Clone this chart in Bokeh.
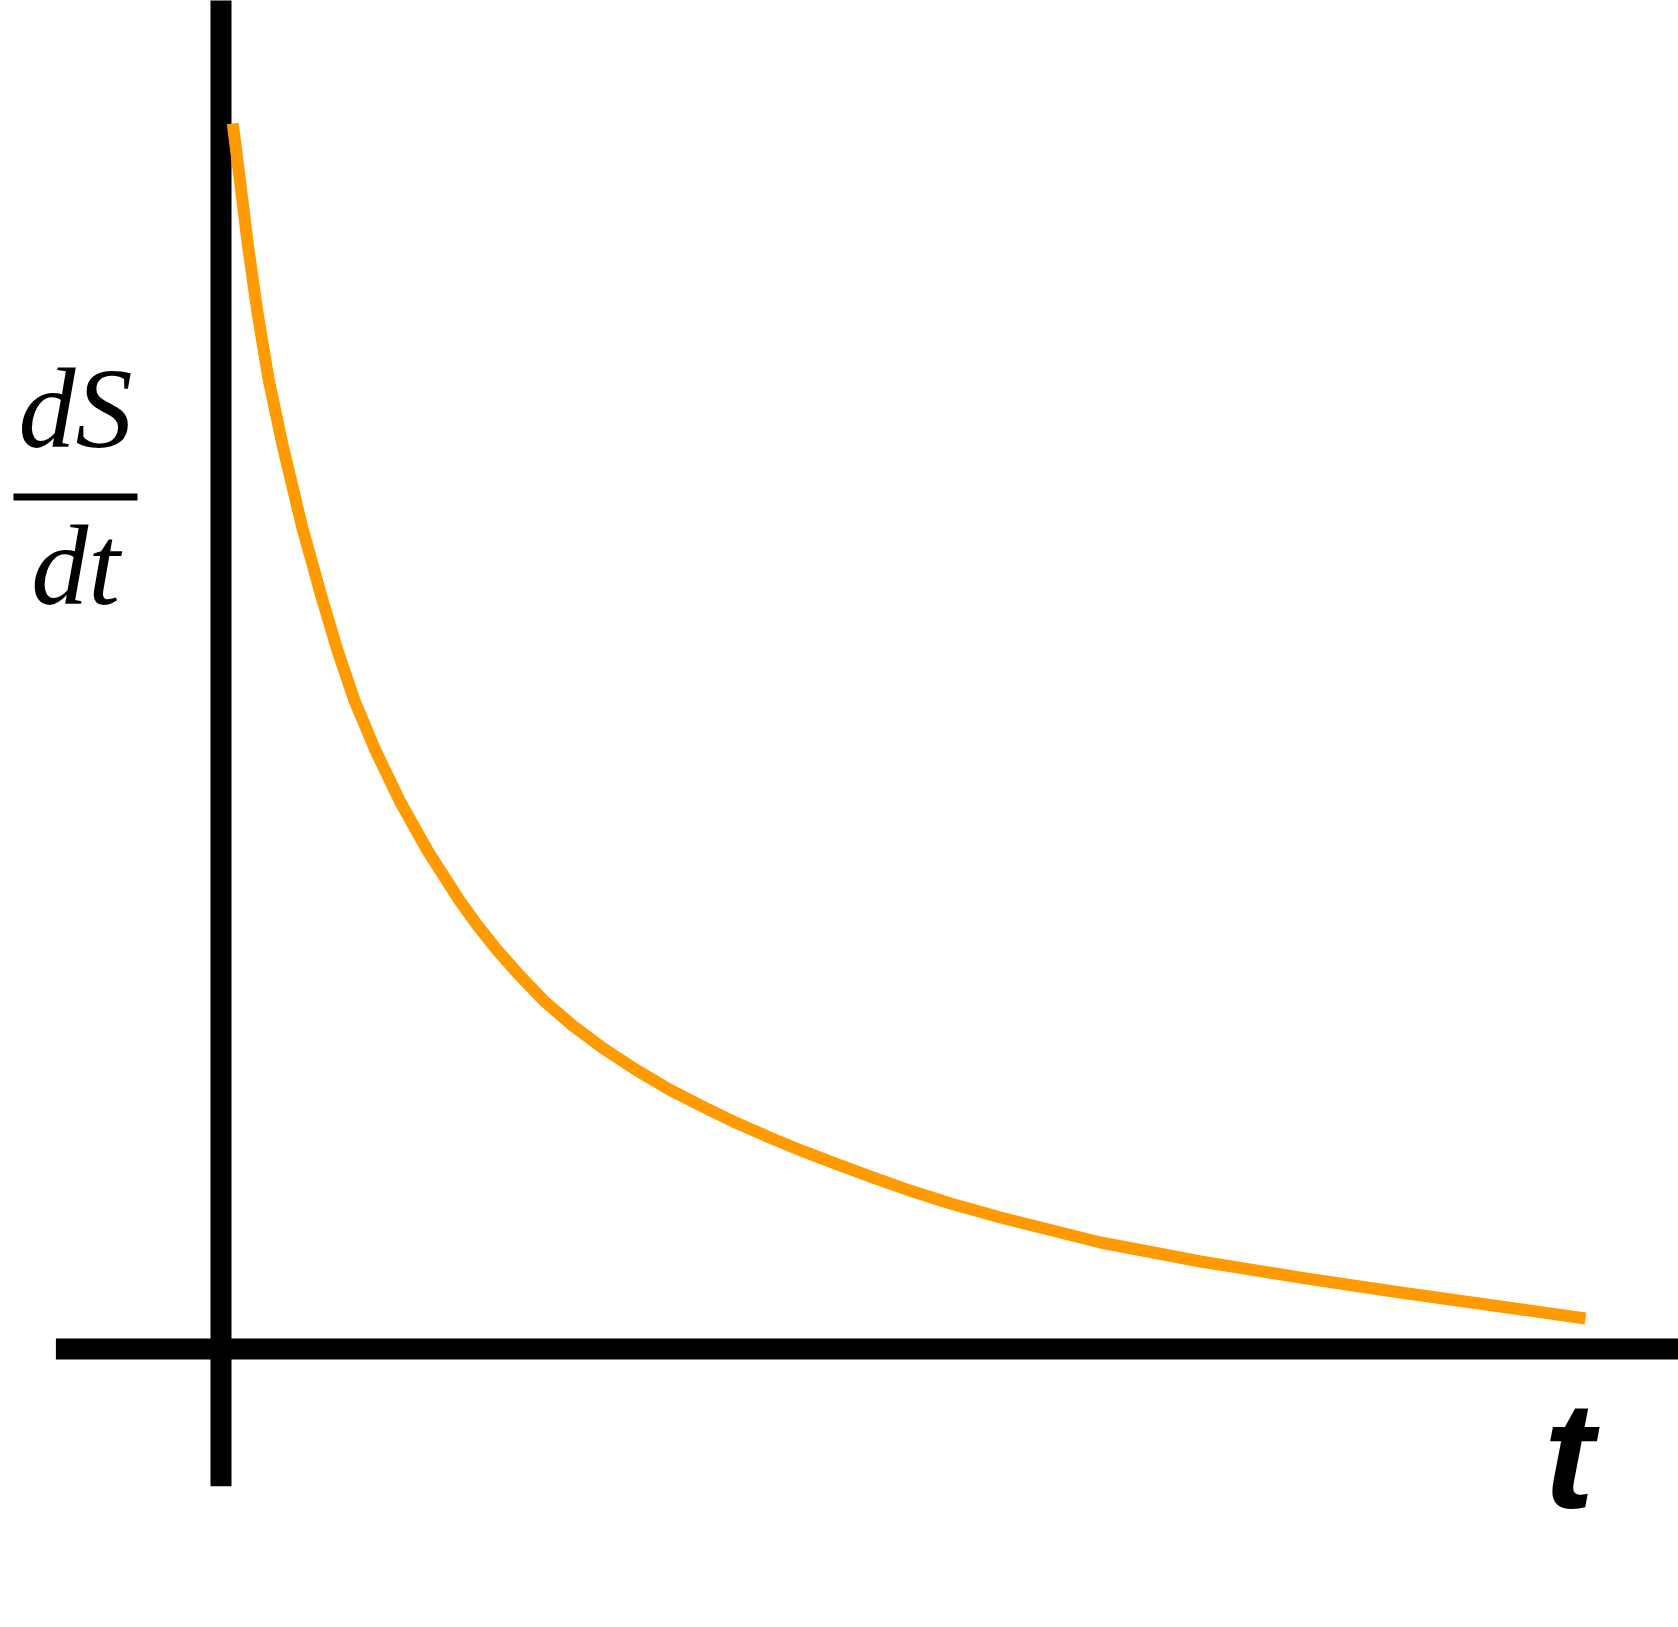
from bokeh.plotting import figure
from bokeh.models import Range1d, Label, BoxAnnotation
from bokeh.embed import file_html
from bokeh.resources import INLINE

# ---- data (t, dS/dt) ----
t_values = [0.086, 0.136, 0.196, 0.265, 0.346, 0.449, 0.595, 0.744, 0.854, 0.978,
            1.132, 1.308, 1.513, 1.748, 1.880, 2.026, 2.188, 2.364, 2.576, 2.803,
            3.038, 3.287, 3.529, 3.771, 4.020, 4.269, 4.518, 4.775, 5.024, 5.346,
            5.713, 6.446, 7.179, 7.911, 8.644, 9.377, 10.0]
rate_values = [10.000, 9.562, 9.018, 8.474, 7.930, 7.386, 6.706, 6.108, 5.700, 5.292,
               4.884, 4.476, 4.068, 3.660, 3.456, 3.252, 3.048, 2.844, 2.640, 2.452,
               2.281, 2.117, 1.979, 1.848, 1.726, 1.612, 1.506, 1.400, 1.302, 1.188,
               1.073, 0.869, 0.714, 0.583, 0.461, 0.347, 0.249]

# axis line extents (data units)
t_axis_extent = [-1.21, 11.2]
rate_axis_extent = [-1.12, 11.5]

# labels
y_label_top = "dS"
y_label_bottom = "dt"
x_label = "t"

W, H = 1678, 1600
PX_T = 136.45      # pixels per t unit
PX_R = 122.55      # pixels per rate unit
x_start = -220.5 / PX_T
y_end = 1348.5 / PX_R

p = figure(width=W, height=H,
           x_range=Range1d(x_start, x_start + W / PX_T),
           y_range=Range1d(y_end - H / PX_R, y_end),
           output_backend="svg", toolbar_location=None,
           x_axis_location=None, y_axis_location=None,
           min_border=0)
p.grid.visible = False
p.outline_line_color = None
p.background_fill_color = "white"
p.border_fill_color = "white"

# axes drawn as thick lines
p.line(t_axis_extent, [0, 0], line_color="black", line_width=21, line_cap="butt")
p.line([0, 0], rate_axis_extent, line_color="black", line_width=21, line_cap="butt")

# curve
p.line(t_values, rate_values, line_color="#FF9A00", line_width=12,
       line_cap="butt", line_join="round")

# y label as fraction
p.add_layout(Label(x=-1.066, y=7.674, text=y_label_top, text_align="center",
                   text_baseline="alphabetic", text_font="Liberation Serif",
                   text_font_style="italic", text_font_size="114px", text_color="black"))
p.add_layout(Label(x=-1.066, y=6.393, text=y_label_bottom, text_align="center",
                   text_baseline="alphabetic", text_font="Liberation Serif",
                   text_font_style="italic", text_font_size="114px", text_color="black"))
p.add_layout(BoxAnnotation(left=-1.521, right=-0.612, bottom=6.924, top=6.981,
                           fill_color="black", fill_alpha=1.0, line_color=None))

# x label
p.add_layout(Label(x=9.88, y=-0.861, text=x_label, text_align="center",
                   text_baseline="alphabetic", text_font="Liberation Sans",
                   text_font_style="bold italic", text_font_size="152px", text_color="black"))

open("out.html", "w").write(file_html(p, INLINE))
